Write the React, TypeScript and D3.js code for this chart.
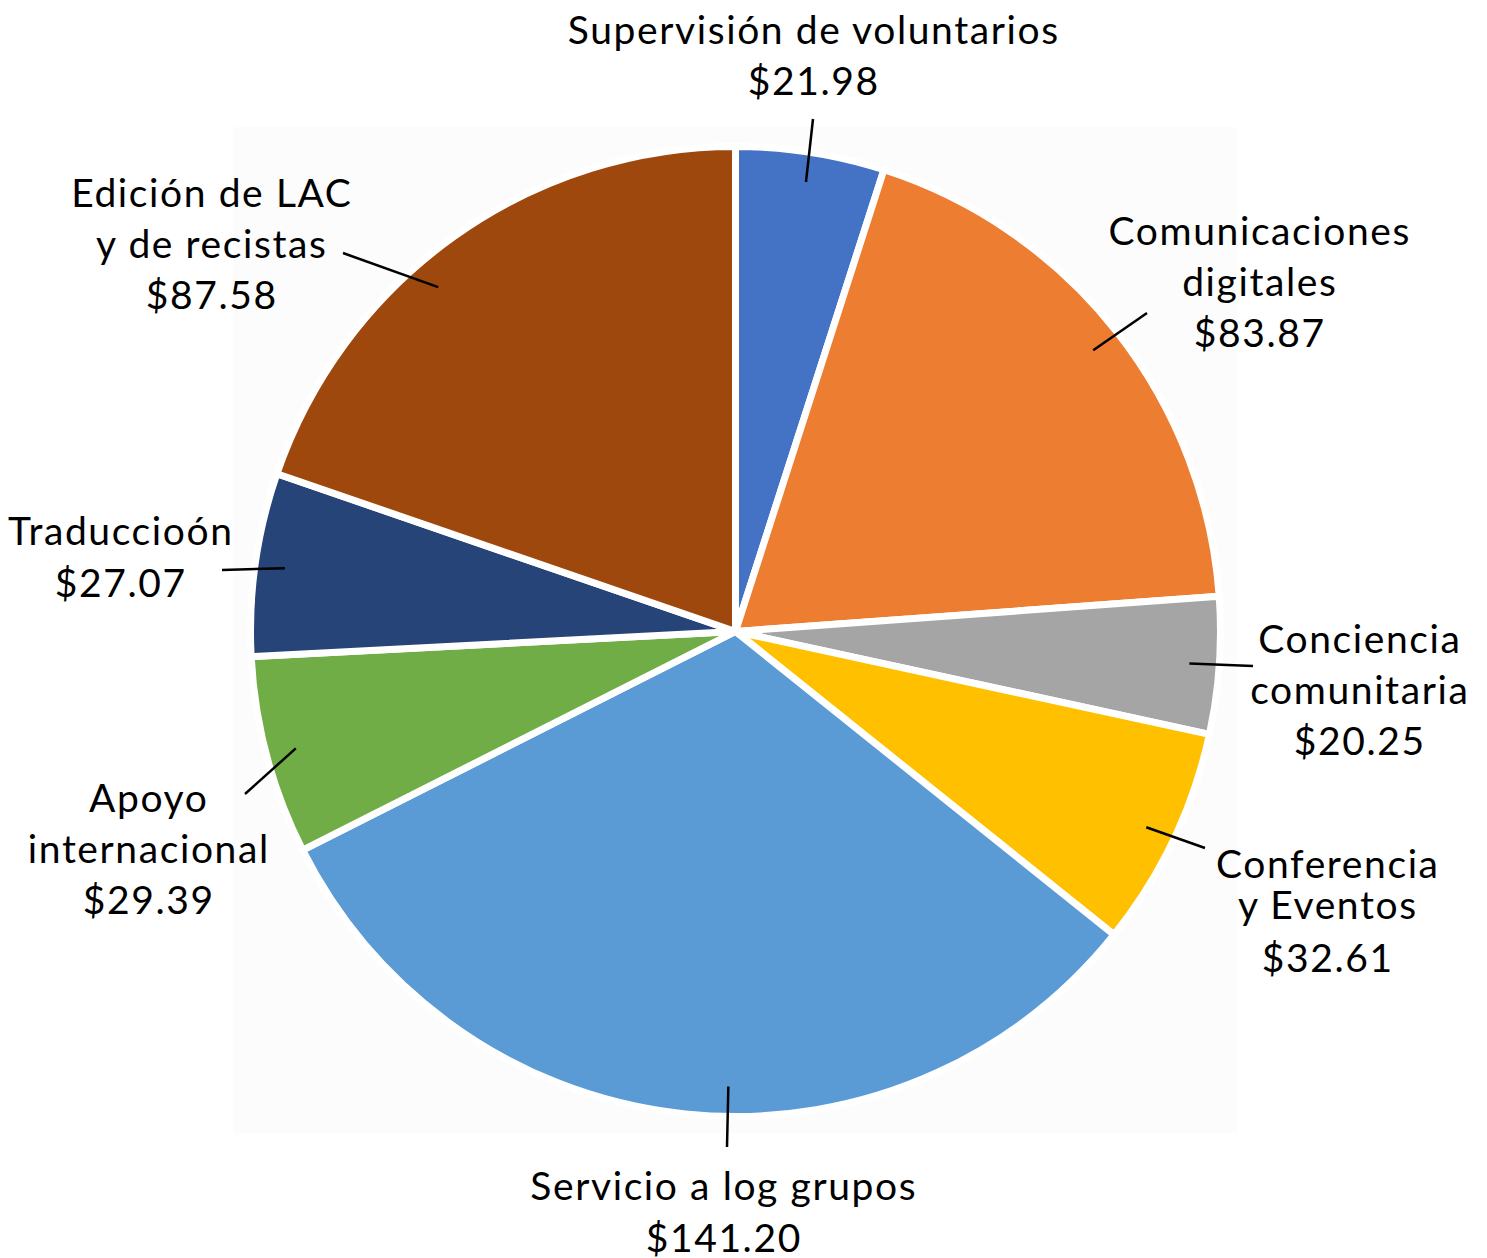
import React from "react";
import * as d3 from "d3";

const categories = [
  "Supervisión de voluntarios",
  "Comunicaciones digitales",
  "Conciencia comunitaria",
  "Conferencia y Eventos",
  "Servicio a log grupos",
  "Apoyo internacional",
  "Traduccioón",
  "Edición de LAC y de recistas",
];
const values = [21.98, 83.87, 20.25, 32.61, 141.2, 29.39, 27.07, 87.58];
const colors = ["#4472C4", "#ED7D31", "#A5A5A5", "#FFC000", "#5B9BD5", "#70AD47", "#264478", "#9E480E"];
const labelLines = [
  ["Supervisión de voluntarios"],
  ["Comunicaciones", "digitales"],
  ["Conciencia", "comunitaria"],
  ["Conferencia", "y Eventos"],
  ["Servicio a log grupos"],
  ["Apoyo", "internacional"],
  ["Traduccioón"],
  ["Edición de LAC", "y de recistas"],
];

// label layout: center x, first baseline y, line step, leader outer end, inner angle (deg, optional)
const labelLayout = [
  { x: 813, y: 44, step: 51, ox: 813, oy: 119, ang: null },
  { x: 1259, y: 245, step: 51, ox: 1147, oy: 313, ang: null },
  { x: 1359, y: 653, step: 51, ox: 1253, oy: 666, ang: null },
  { x: 1327, y: 878, step: 41, ox: 1205, oy: 848, ang: null, lastStep: 53 },
  { x: 723, y: 1200, step: 52, ox: 727, oy: 1147, ang: 180.9 },
  { x: 148, y: 812, step: 51, ox: 245, oy: 794, ang: null },
  { x: 120, y: 545, step: 52, ox: 222, oy: 570, ang: null },
  { x: 211, y: 207, step: 51, ox: 343, oy: 253, ang: 319.2 },
];

const W = 1487;
const H = 1258;
const cx = 735.5;
const cy = 631.5;
const R = 485;

export default function App() {
  const pie = d3.pie<number>().sort(null).value((d) => d)(values);
  const arc = d3.arc<d3.PieArcDatum<number>>().innerRadius(0).outerRadius(R);
  const fmt = (v: number) => "$" + d3.format(".2f")(v);
  const font = "Lato, 'Noto Sans', sans-serif";
  return (
    <svg width={W} height={H} style={{ position: "absolute", left: 0, top: 0, background: "#fff" }}>
      <rect x={233} y={127} width={1004} height={1006} fill="#fcfcfc" />
      <g transform={`translate(${cx},${cy})`}>
        {pie.map((p, i) => (
          <path key={i} d={arc(p) || ""} fill={colors[i]} stroke="#fff" strokeWidth={7} strokeLinejoin="round" />
        ))}
      </g>
      {pie.map((p, i) => {
        const L = labelLayout[i];
        const a = L.ang != null ? (L.ang * Math.PI) / 180 : (p.startAngle + p.endAngle) / 2;
        const ix = cx + 455 * Math.sin(a);
        const iy = cy - 455 * Math.cos(a);
        const lines = [...labelLines[i], fmt(values[i])];
        return (
          <g key={i}>
            <line x1={L.ox} y1={L.oy} x2={ix} y2={iy} stroke="#000" strokeWidth={2.5} />
            <text textAnchor="middle" fontFamily={font} fontSize={39} letterSpacing={1.6} fill="#000">
              {lines.map((t, j) => {
                let yy = L.y + j * L.step;
                if (L.lastStep && j === lines.length - 1) yy = L.y + (j - 1) * L.step + L.lastStep;
                return (
                  <tspan key={j} x={L.x + 0.8} y={yy}>
                    {t}
                  </tspan>
                );
              })}
            </text>
          </g>
        );
      })}
    </svg>
  );
}
